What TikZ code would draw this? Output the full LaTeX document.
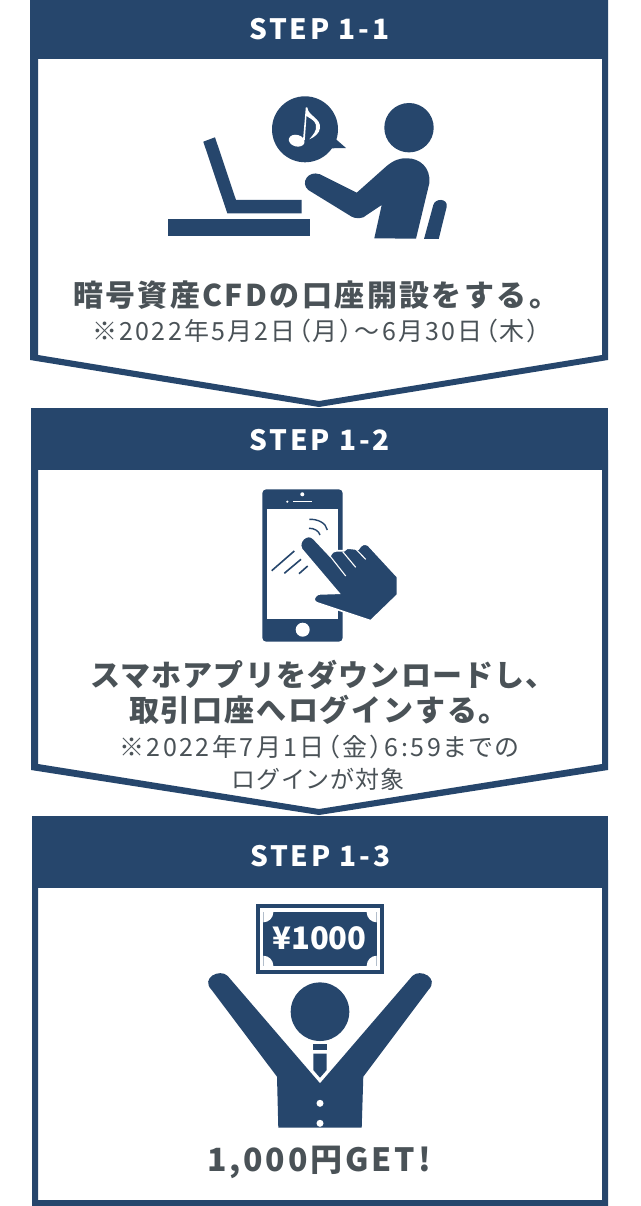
\documentclass[tikz,border=0pt]{standalone}
\usepackage{xcolor}
\usepackage{fontspec}
\newfontfamily\jpfont[RawFeature={+palt}]{Noto Sans CJK JP}
\newfontfamily\jpwide[LetterSpace=4]{Noto Sans CJK JP}
\newcommand{\tracked}[1]{\addfontfeature{LetterSpace=#1}}
\definecolor{navy}{HTML}{26466C}
\definecolor{ink}{HTML}{4A5257}
\usetikzlibrary{calc, positioning}

\begin{document}
\begin{tikzpicture}[x=1pt, y=-1pt, node distance=0pt,
		      stephead/.style = {fill=navy, text=white, inner sep=0pt, anchor=north west,
		      font=\jpwide\bfseries\fontsize{28}{32}\selectfont},
		      bigline/.style = {text=ink, inner sep=0pt, font=\jpwide\bfseries\fontsize{30}{34}\selectfont},
		      smallline/.style = {text=ink, inner sep=0pt, font=\jpfont\fontsize{25}{28}\selectfont},
		      icon/.style = {fill=navy},
		      cutout/.style = {fill=white} ]
   \useasboundingbox (0,0) rectangle (640,1206);
   \fill[white] (0,0) rectangle (640,1206);

   % panels
   \fill[navy, even odd rule] (30,0) -- (608,0) -- (608,360) -- (319,407) -- (30,360) -- cycle
        (38,50) -- (602,50) -- (602,355) -- (319,401) -- (38,355) -- cycle;
   \fill[navy, even odd rule] (31,450) -- (608,450) -- (608,770) -- (319,815) -- (31,770) -- cycle
        (38,460) -- (602,460) -- (602,764) -- (319,809) -- (38,764) -- cycle;
   \fill[navy, even odd rule] (32,860) -- (608,860) -- (608,1206) -- (32,1206) -- cycle
        (38,880) -- (602,880) -- (602,1200) -- (38,1200) -- cycle;

   \node (heada) [stephead, minimum width=578pt, minimum height=59pt] at (30,0) {\raisebox{-10pt}[0pt][0pt]{\tracked{10}STEP 1-1}};
   \node (headb) [stephead, minimum width=577pt, minimum height=62pt] at (31,408) {\raisebox{-11pt}[0pt][0pt]{\tracked{10}STEP 1-2}};
   \node (headc) [stephead, minimum width=576pt, minimum height=72pt] at (32,816) {\raisebox{-14pt}[0pt][0pt]{\tracked{10}STEP 1-3}};

   % laptop and listener
   \fill[icon] (203.3,141.7) -- (215,137.3) -- (236,200) -- (301.7,200) -- (301.7,213.3)
        -- (227.3,213.3) -- cycle;
   \fill[icon] (168,219.3) rectangle (310,235.7);
   \fill[icon] (305,129.3) circle (33);
   \fill[icon] (336,139.3) -- (346,148) -- (331.7,148.3) -- cycle;
   \fill[cutout, rotate around={-15:(296.7,140.7)}] (296.7,140.7) ellipse (8 and 5.8);
   \fill[cutout] (303,140) -- (305.8,107.3) -- (307.3,107.3) .. controls (308,116) and (321,118) .. (320,128)
        .. controls (319.5,133) and (315,137) .. (309.3,139.3) .. controls (313,135) and (317,131) .. (316,125)
        .. controls (315,120) and (309,118) .. (306.5,116) -- (304.8,140) -- cycle;
   \fill[icon] (409,127.7) circle (24.7);
   \fill[icon] (320,174.3) -- (356.7,192.7) -- (386.7,166) .. controls (394,160) and (400,158) .. (406.7,158.3)
        .. controls (420,158) and (431,168) .. (429.3,183.3) -- (416,238.7) -- (374.3,238.3) -- (381.7,205)
        -- (363.3,217.3) .. controls (360,218.5) and (355,218.5) .. (351.7,216.7) -- (308.3,190)
        .. controls (300,183) and (308,170) .. (320,174.3) -- cycle;
   \fill[icon] (433.3,205) .. controls (435,198) and (448,198) .. (446.7,206.7) -- (438.7,239) -- (424,239) -- cycle;

   \node (mainone) [bigline] at (316,295) {\tracked{8}暗号資産CFDの口座開設をする。};
   \node (noteone) [smallline, below=9pt of mainone] {\tracked{9}※2022年5月2日（月）〜6月30日（木）};

   % phone and hand
   \fill[icon, rounded corners=4pt] (262.3,489.3) rectangle (342.7,641.7);
   \fill[cutout] (267.3,509.3) rectangle (337.7,619);
   \fill[cutout] (302.3,494.3) circle (2);
   \fill[cutout] (287.3,501.7) circle (1.2);
   \fill[cutout] (293.3,500.6) rectangle (311.7,502);
   \fill[cutout] (302.7,629.7) circle (7);
   \draw[navy, line width=1.6pt] (271.7,570.7) -- (294.3,551)
        (284.3,573.3) -- (301,559.3)
        (299,573.7) -- (307.7,566);
   \draw[navy, line width=1.4pt] (309.3,519.3) .. controls (318,519) and (326,523) .. (327.3,530);
   \draw[navy, line width=1.4pt] (309,528.3) .. controls (314,528) and (319,531) .. (320,535);
   \fill[icon, draw=white, line width=1.6pt] (314,539) -- (330,556) .. controls (332,552) and (334,550.7) .. (336.7,550.7)
        -- (344,550.7) .. controls (346,548) and (348,548) .. (350,548.3) -- (358.3,549.3)
        .. controls (361,544) and (365,543) .. (368.3,545.3) -- (397.3,576.7) -- (397.3,595)
        -- (370.7,620.7) -- (316.7,602.7) .. controls (313,601) and (313,597) .. (318.3,594) -- (339,593.3)
        -- (301.7,549.3) .. controls (297,541) and (308,532) .. (314,539) -- cycle;
   \draw[white, line width=1.1pt] (330,556) -- (345.7,576)
        (342.7,551.7) -- (355.7,567.3)
        (355,548.3) -- (365.7,559.3);

   \node (maintwo) [bigline] at (323,675) {スマホアプリをダウンロードし、};
   \node (subtwo) [bigline, below=5pt of maintwo, xshift=-4pt] {\tracked{6}取引口座へログインする。};
   \node (notetwo) [smallline, below=10pt of subtwo] {\tracked{10}※2022年7月1日（金）6:59までの};
   \node (lasttwo) [smallline, below=9pt of notetwo, xshift=-1pt, font=\jpwide\fontsize{24}{27}\selectfont] {ログインが対象};

   % banknote and winner
   \fill[icon] (256,904) rectangle (384,974);
   \fill[cutout] (260,907.7) rectangle (380,970.3);
   \fill[icon] (263.3,912.3) rectangle (376.7,965.7);
   \begin{scope}
     \clip (263.3,912.3) rectangle (376.7,965.7);
     \foreach \cx/\cy in {263.3/912.3, 376.7/912.3, 263.3/965.7, 376.7/965.7}
        \fill[cutout] (\cx,\cy) circle (10);
   \end{scope}
   \node (bill) [inner sep=0pt, text=white, font=\jpfont\bfseries\fontsize{31}{36}\selectfont] at (319.5,938) {¥1000};
   \fill[icon] (320,1011.7) circle (29.3);
   \fill[icon] (227.7,976) -- (320,1083.3) -- (412.3,976)
        .. controls (420,968) and (440,978) .. (428.3,990) -- (363.3,1076.7) -- (361.7,1127.7)
        -- (278.3,1127.7) -- (277,1076.7) -- (211.7,990) .. controls (200,978) and (220,968) .. (227.7,976) -- cycle;
   \fill[icon] (313.3,1043.7) rectangle (326.7,1050.3);
   \fill[icon] (313.3,1053.7) -- (326.7,1053.7) -- (326.7,1070) -- (320,1077.7) -- (313.3,1070) -- cycle;
   \fill[cutout] (320,1103.3) circle (3.5);
   \fill[cutout] (320,1123.3) circle (3.5);

   \node (mainthree) [bigline, font=\jpwide\bfseries\fontsize{32}{38}\selectfont] at (319,1162.5) {\tracked{9}1,000円GET!};
\end{tikzpicture}
\end{document}
